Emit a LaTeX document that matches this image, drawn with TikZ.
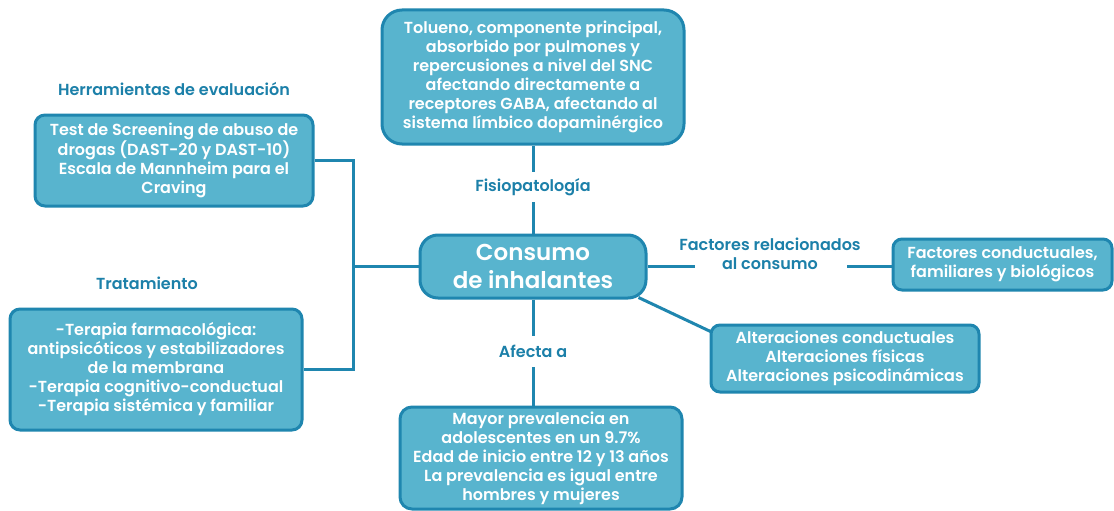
\documentclass[tikz,border=0pt]{standalone}
\usepackage{fontspec}
\setmainfont{Poppins}[BoldFont={Poppins SemiBold}]
\usetikzlibrary{calc}
\definecolor{boxfill}{HTML}{58B4CE}
\definecolor{boxdraw}{HTML}{1F86AF}
\definecolor{labelc}{HTML}{1C80A9}
\begin{document}
\begin{tikzpicture}[x=1pt,y=-1pt,
  box/.style={draw=boxdraw, fill=boxfill, line width=3pt, rounded corners=12pt,
    text=white, font=\fontsize{16}{19}\selectfont\bfseries, align=center, inner sep=0pt},
  lab/.style={text=labelc, font=\fontsize{16}{19}\selectfont\bfseries, align=center, inner sep=0pt},
  conn/.style={draw=boxdraw, line width=3pt}]
\path[use as bounding box, fill=white] (0,0) rectangle (1114,511);

\node[box, minimum width=302pt, minimum height=134pt, rounded corners=20pt] (top) at (533,77)
  {Tolueno, componente principal,\\absorbido por pulmones y\\repercusiones a nivel del SNC\\afectando directamente a\\receptores GABA, afectando al\\sistema límbico dopaminérgico};
\node[box, minimum width=226pt, minimum height=63pt, rounded corners=18pt,
  font=\fontsize{23}{28}\selectfont\bfseries] (center) at (533,266.5) {Consumo\\de inhalantes};
\node[box, minimum width=219pt, minimum height=51pt, rounded corners=9pt] (right) at (1002.5,264.5)
  {Factores conductuales,\\familiares y biológicos};
\node[box, minimum width=268pt, minimum height=67pt, rounded corners=9pt] (alt) at (845,358.5)
  {Alteraciones conductuales\\Alteraciones físicas\\Alteraciones psicodinámicas};
\node[box, minimum width=282pt, minimum height=102pt, rounded corners=12pt] (bottom) at (541,458)
  {Mayor prevalencia en\\adolescentes en un 9.7\%\\Edad de inicio entre 12 y 13 años\\La prevalencia es igual entre\\hombres y mujeres};
\node[box, minimum width=278pt, minimum height=91pt, rounded corners=10pt] (tl) at (174,160.5)
  {Test de Screening de abuso de\\drogas (DAST-20 y DAST-10)\\Escala de Mannheim para el\\Craving};
\node[box, minimum width=292pt, minimum height=121pt, rounded corners=10pt] (bl) at (156,369.5)
  {-Terapia farmacológica:\\antipsicóticos y estabilizadores\\de la membrana\\-Terapia cognitivo-conductual\\-Terapia sistémica y familiar};

\node[lab, minimum height=30pt] (fis) at (533,187) {Fisiopatología};
\node[lab, minimum height=31pt] (afe) at (533,351.5) {Afecta a};
\node[lab] (fac) at (770,254) {Factores relacionados\\al consumo};
\node[lab] (herr) at (174,89) {Herramientas de evaluación};
\node[lab] (trat) at (147,283) {Tratamiento};

\coordinate (fl) at (695,266.5);
\coordinate (fr) at (847,266.5);
\coordinate (jx) at (353,266.5);

\draw[conn] (center.north) -- (fis.south);
\draw[conn] (fis.north) -- (top.south);
\draw[conn] (center.south) -- (afe.north);
\draw[conn] (afe.south) -- (afe.south |- bottom.north);
\draw[conn] (center.east) -- (fl);
\draw[conn] (fr) -- (fr -| right.west);
\draw[conn] ($(center.south east)+(-9,-2)$) -- ($(alt.north west)+(1,8)$);
\draw[conn] (center.west) -- (jx);
\draw[conn] (tl.east) -| (jx) |- (bl.east);
\end{tikzpicture}
\end{document}
